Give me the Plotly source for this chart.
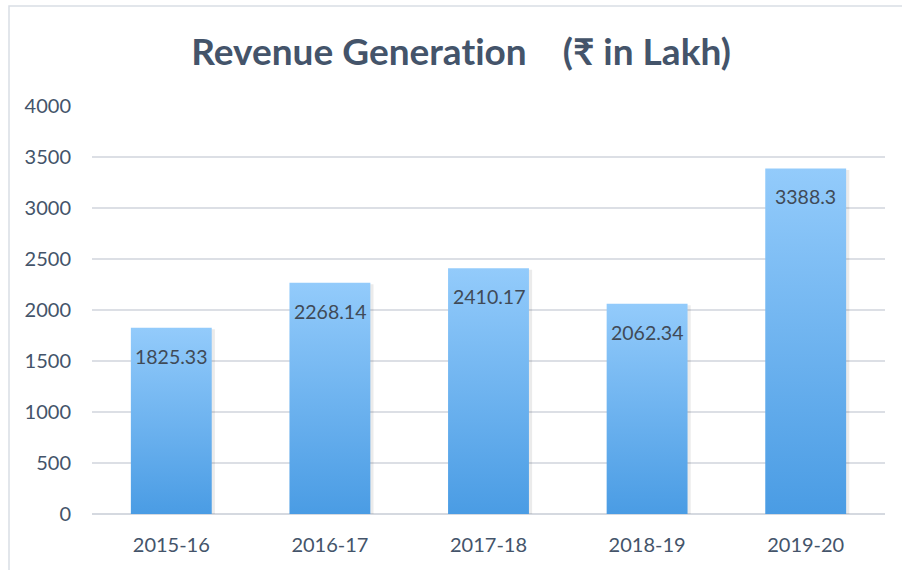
import plotly.graph_objects as go

# Revenue by financial year (₹ in Lakh)
years = ["2015-16", "2016-17", "2017-18", "2018-19", "2019-20"]
revenue = [1825.33, 2268.14, 2410.17, 2062.34, 3388.3]
labels = ["1825.33", "2268.14", "2410.17", "2062.34", "3388.3"]
y_ticks = [0, 500, 1000, 1500, 2000, 2500, 3000, 3500, 4000]

W, H = 902, 570
M = dict(l=92, r=17, t=106, b=56)
BAR_W = 0.51
TEXT = "#44546a"

fig = go.Figure()

xs = list(range(len(years)))
for i, v in zip(xs, revenue):
    x0, x1 = i - BAR_W / 2, i + BAR_W / 2
    # soft drop shadow
    fig.add_trace(go.Scatter(
        x=[x0 + 0.012, x1 + 0.02, x1 + 0.02, x0 + 0.012, x0 + 0.012],
        y=[-22, -22, v - 15, v - 15, -22],
        mode="lines", line=dict(width=0), fill="toself",
        fillcolor="rgba(0,0,0,0.08)", hoverinfo="skip", showlegend=False,
    ))
    # gradient column
    fig.add_trace(go.Scatter(
        x=[x0, x1, x1, x0, x0],
        y=[0, 0, v, v, 0],
        mode="lines", line=dict(width=0), fill="toself",
        fillgradient=dict(type="vertical",
                          colorscale=[[0, "#4a9ce4"], [1, "#93cbfb"]]),
        hoverinfo="skip", showlegend=False,
    ))
    # value label inside the top of the column
    fig.add_annotation(
        x=i, y=v, text=labels[i], showarrow=False,
        yanchor="top", yshift=-15,
        font=dict(family="Lato", size=19.5, color="#404a57"),
    )

# outer frame of the chart
fig.add_shape(type="rect", xref="paper", yref="paper",
              x0=(9 - M["l"]) / (W - M["l"] - M["r"]), x1=1.1,
              y0=-0.3, y1=1 + (M["t"] - 6) / (H - M["t"] - M["b"]),
              line=dict(color="#d9dee5", width=1.5), layer="below")

title_text = ("<b><span style=\"font-variant-ligatures:none;letter-spacing:0.01px\">"
              "Revenue Generation\u00a0\u00a0\u00a0\u00a0(₹ in Lakh)</span></b>")

fig.update_layout(
    width=W, height=H, margin=M,
    paper_bgcolor="white", plot_bgcolor="white",
    font=dict(family="Lato", color=TEXT),
    title=dict(
        text=title_text,
        x=461 / W, xanchor="center", xref="container",
        y=1 - 52 / H, yanchor="middle", yref="container",
        font=dict(family="Lato", size=37, color=TEXT),
    ),
    xaxis=dict(
        range=[-0.5, len(years) - 0.5],
        tickvals=xs, ticktext=years,
        tickfont=dict(size=20, color=TEXT),
        showgrid=False, zeroline=False, showline=False,
        ticks="", ticklabelstandoff=17, fixedrange=True,
    ),
    yaxis=dict(
        range=[0, 4000], tickvals=y_ticks,
        tickfont=dict(size=20, color=TEXT),
        showgrid=True, gridcolor="#dcdfe5", gridwidth=1.5,
        zeroline=True, zerolinecolor="#d5d9e0", zerolinewidth=1.5,
        showline=False, ticks="", ticklabelstandoff=20, fixedrange=True,
    ),
)

fig.write_html("out.html")
